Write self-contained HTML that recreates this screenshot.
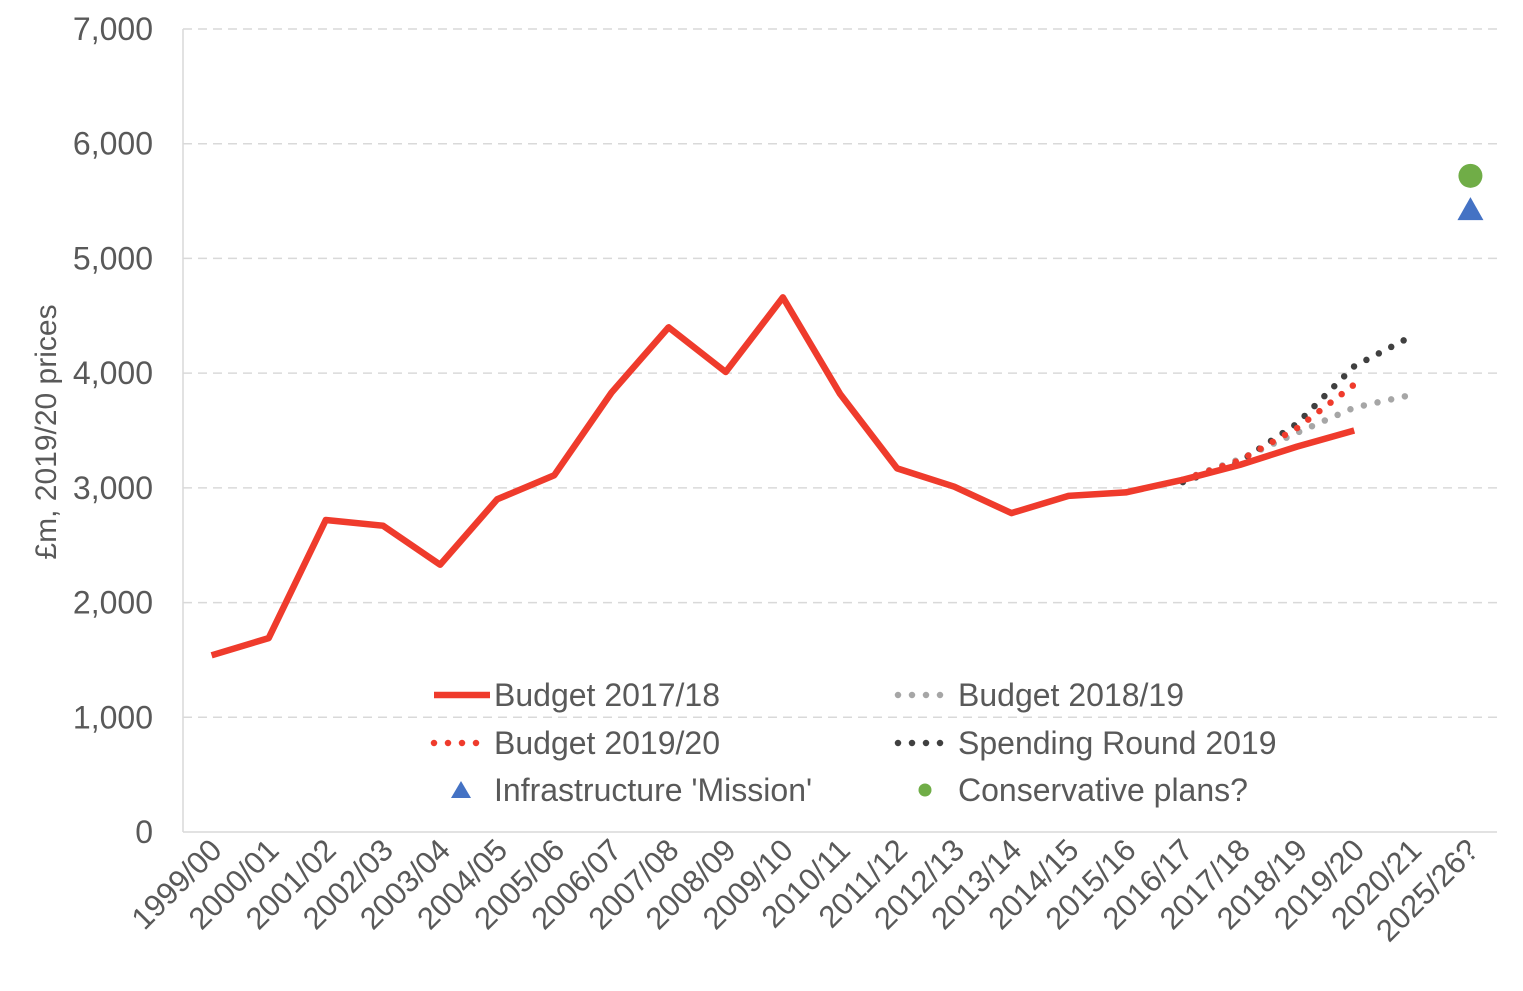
<!DOCTYPE html>
<html><head><meta charset="utf-8"><style>
html,body{margin:0;padding:0;background:#fff;}
svg{display:block;font-family:"Liberation Sans",sans-serif;}
</style></head><body>
<svg id="c" width="1523" height="991"></svg>
<script>
const categories=["1999/00","2000/01","2001/02","2002/03","2003/04","2004/05","2005/06","2006/07","2007/08","2008/09","2009/10","2010/11","2011/12","2012/13","2013/14","2014/15","2015/16","2016/17","2017/18","2018/19","2019/20","2020/21","2025/26?"];
const budget1718=[1540,1690,2720,2670,2330,2900,3110,3830,4400,4010,4660,3820,3170,3010,2780,2930,2960,3070,3200,3360,3500,null,null];
const budget1819=[null,null,null,null,null,null,null,null,null,null,null,null,null,null,null,null,null,3070,3250,3480,3700,3810,null];
const budget1920=[null,null,null,null,null,null,null,null,null,null,null,null,null,null,null,null,null,3070,3240,3520,3900,null,null];
const spending2019=[null,null,null,null,null,null,null,null,null,null,null,null,null,null,null,null,null,3050,3230,3560,4060,4320,null];
const missionValue=[5430];
const conservativeValue=[5720];
const yTicks=[0,1000,2000,3000,4000,5000,6000,7000];
const yTickLabels=["0","1,000","2,000","3,000","4,000","5,000","6,000","7,000"];

const NS="http://www.w3.org/2000/svg";
const svg=document.getElementById('c');
const L=183,R=1497,T=29,B=832,YMAX=7000;
const bw=(R-L)/categories.length;
function xs(i){return L+bw*(i+0.5);}
function ys(v){return B-(v/YMAX)*(B-T);}
function mk(tag,attrs,name,parent){const e=document.createElementNS(NS,tag);for(const k in attrs)e.setAttribute(k,attrs[k]);


(parent||svg).appendChild(e);return e;}

yTicks.forEach((v,i)=>{
  if(v>0) mk('line',{x1:L,x2:R,y1:ys(v),y2:ys(v),stroke:'#d9d9d9','stroke-width':1.5,'stroke-dasharray':'9,6'},'gridline');
  const t=mk('text',{x:153,y:ys(v)+11,'text-anchor':'end','font-size':32,fill:'#595959'},'y-tick-label');t.textContent=yTickLabels[i];
});
mk('line',{x1:L,x2:L,y1:T,y2:B,stroke:'#d9d9d9','stroke-width':1.5},'y-axis');
mk('line',{x1:L,x2:R,y1:B,y2:B,stroke:'#d9d9d9','stroke-width':1.5},'x-axis');
categories.forEach((c,i)=>{
  const x=xs(i)+12,y=B+20;
  const t=mk('text',{x:x,y:y,'text-anchor':'end','font-size':31,fill:'#595959',transform:`rotate(-45 ${x} ${y})`},'x-tick-label');t.textContent=c;
});
const yt=mk('text',{x:0,y:0,'text-anchor':'middle','font-size':30,fill:'#595959',transform:'translate(56 432) rotate(-90)'},'y-axis-title');yt.textContent='£m, 2019/20 prices';

function line(arr,style,name){
  const pts=[];arr.forEach((v,i)=>{if(v!=null)pts.push(xs(i).toFixed(1)+','+ys(v).toFixed(1));});
  mk('polyline',Object.assign({points:pts.join(' '),fill:'none'},style),name);
}
const dotStyle=c=>({stroke:c,'stroke-width':6.5,'stroke-linecap':'round','stroke-dasharray':'0,14'});
line(budget1819,dotStyle('#a6a6a6'),'series-budget-2018-19');
line(spending2019,dotStyle('#404040'),'series-spending-round-2019');
line(budget1920,dotStyle('#ef3b2c'),'series-budget-2019-20');
line(budget1718,{stroke:'#ef3b2c','stroke-width':6.5,'stroke-linejoin':'round'},'series-budget-2017-18');
const li=categories.length-1;
const tx=xs(li)+2,ty=ys(missionValue[0]);
mk('polygon',{points:`${tx-13},${ty+11} ${tx+13},${ty+11} ${tx},${ty-12}`,fill:'#4472c4'},'infrastructure-mission-marker');
mk('circle',{cx:tx,cy:ys(conservativeValue[0]),r:12,fill:'#70ad47'},'conservative-plans-marker');

const leg=[
 [432,695,'Budget 2017/18',{stroke:'#ef3b2c','stroke-width':6.5}],
 [896,695,'Budget 2018/19',dotStyle('#a6a6a6')],
 [432,743,'Budget 2019/20',dotStyle('#ef3b2c')],
 [896,743,'Spending Round 2019',dotStyle('#404040')],
 [432,790,"Infrastructure 'Mission'",null],
 [896,790,'Conservative plans?',null]];
leg.forEach((e,i)=>{
  const g=mk('g',{},'legend-entry');
  if(e[3]) mk('line',Object.assign({x1:e[0]+2,x2:e[0]+58,y1:e[1],y2:e[1]},e[3]),'legend-swatch',g);
  else if(i==4) mk('polygon',{points:`${e[0]+19},${e[1]+8} ${e[0]+39},${e[1]+8} ${e[0]+29},${e[1]-9}`,fill:'#4472c4'},'legend-swatch',g);
  else mk('circle',{cx:e[0]+29,cy:e[1],r:6.5,fill:'#70ad47'},'legend-swatch',g);
  const t=mk('text',{x:e[0]+62,y:e[1]+11,'font-size':32,fill:'#595959'},'legend-label',g);t.textContent=e[2];
});
</script>
</body></html>
